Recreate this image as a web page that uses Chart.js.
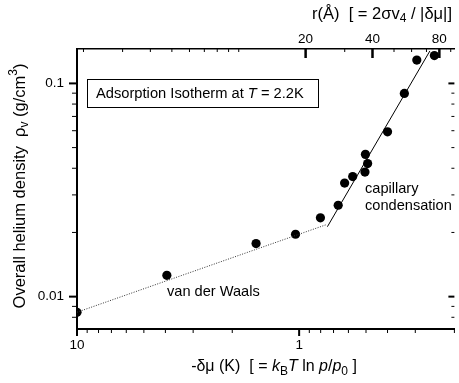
<!DOCTYPE html>
<html><head><meta charset="utf-8">
<script src="https://cdn.jsdelivr.net/npm/chart.js@4/dist/chart.umd.min.js"></script>
<style>html,body{margin:0;padding:0;background:#fff;overflow:hidden}</style>
</head><body>
<canvas id="c" width="459" height="383"></canvas>
<script>
// ---- data ----
const deltaMu = [10.0, 3.94, 1.563, 1.038, 0.802, 0.667, 0.624, 0.574, 0.503, 0.4916, 0.5055, 0.400, 0.336, 0.2953, 0.2461];
const density = [0.00844, 0.01259, 0.01774, 0.01961, 0.02341, 0.02683, 0.03408, 0.03656, 0.04647, 0.04207, 0.03838, 0.05926, 0.08977, 0.1286, 0.1350];
const vdwFitX = [10, 0.75];
const vdwFitY = [0.00845, 0.0218];
const capFitX = [0.746, 0.2578];
const capFitY = [0.02128, 0.1420];
const xTickLabels = [10, 1];
const yTickLabels = [0.1, 0.01];
const rTickLabels = [20, 40, 80];
const R_TIMES_DMU = 18.7;        // r(Å) * |δμ|(K)
const X_RANGE = [0.2, 10];
const Y_RANGE = [0.00705, 0.145];

const FONT = "'Liberation Sans', Arial, Helvetica, sans-serif";
Chart.defaults.font.family = FONT;
Chart.defaults.font.size = 13.5;
Chart.defaults.color = '#000';

function logTickValues(min, max) {
  const out = [];
  for (let e = Math.floor(Math.log10(min)) ; e <= Math.ceil(Math.log10(max)); e++) {
    for (let m = 1; m <= 9; m++) {
      const v = +(m * Math.pow(10, e)).toPrecision(6);
      if (v >= min * 0.9999 && v <= max * 1.0001) out.push({v, major: m === 1});
    }
  }
  return out;
}

function segFont(s, size) {
  const sz = s.s ? Math.round(size * 0.72) : size;
  return (s.i ? 'italic ' : '') + sz + 'px ' + FONT;
}
function drawRich(ctx, segs, x, y, size, align) {
  let w = 0;
  segs.forEach(s => { ctx.font = segFont(s, size); s.w = ctx.measureText(s.t).width; w += s.w; });
  let cx = align === 'center' ? x - w / 2 : (align === 'right' ? x - w : x);
  ctx.textBaseline = 'middle';
  ctx.textAlign = 'left';
  segs.forEach(s => {
    ctx.font = segFont(s, size);
    let dy = 0;
    if (s.s === 'sub') dy = size * 0.3;
    if (s.s === 'sup') dy = -size * 0.4;
    ctx.fillText(s.t, cx, y + dy);
    cx += s.w;
  });
}

const decorPlugin = {
  id: 'decor',
  afterDraw(chart) {
    const ctx = chart.ctx, a = chart.chartArea;
    const sx = chart.scales.x, sy = chart.scales.y, st = chart.scales.x2;
    ctx.save();
    ctx.strokeStyle = '#000';
    ctx.fillStyle = '#000';
    // bottom axis ticks (outward)
    logTickValues(X_RANGE[0], X_RANGE[1]).forEach(t => {
      const p = sx.getPixelForValue(t.v);
      ctx.lineWidth = t.major ? 2 : 1;
      ctx.beginPath(); ctx.moveTo(p, a.bottom); ctx.lineTo(p, a.bottom + (t.major ? 7 : 4)); ctx.stroke();
    });
    // left + right axis ticks
    logTickValues(Y_RANGE[0], Y_RANGE[1]).forEach(t => {
      const p = sy.getPixelForValue(t.v);
      ctx.lineWidth = t.major ? 2 : 1;
      ctx.beginPath(); ctx.moveTo(a.left, p); ctx.lineTo(a.left - (t.major ? 8 : 5), p); ctx.stroke();
      ctx.beginPath(); ctx.moveTo(a.right, p); ctx.lineTo(a.right - (t.major ? 6 : 3), p); ctx.stroke();
    });
    // top axis ticks (inward)
    logTickValues(st.min, st.max).forEach(t => {
      const p = st.getPixelForValue(t.v);
      const major = rTickLabels.includes(t.v);
      ctx.lineWidth = major ? 2.5 : 1;
      ctx.beginPath(); ctx.moveTo(p, a.top); ctx.lineTo(p, a.top + (major ? 9 : 3)); ctx.stroke();
    });
    // axis titles
    ctx.save();
    ctx.translate(20, 186);
    ctx.rotate(-Math.PI / 2);
    drawRich(ctx, [{t: 'Overall helium density  \u03C1'}, {t: 'v', s: 'sub'}, {t: ' (g/cm'}, {t: '3', s: 'sup'}, {t: ')'}], 0, 0, 16.5, 'center');
    ctx.restore();
    drawRich(ctx, [{t: '-\u03B4\u03BC (K)  [ = '}, {t: 'k', i: true}, {t: 'B', s: 'sub'}, {t: 'T', i: true}, {t: ' ln '}, {t: 'p', i: true}, {t: '/'}, {t: 'p', i: true}, {t: '0', s: 'sub'}, {t: ' ]'}], 274, 367, 16, 'center');
    drawRich(ctx, [{t: 'r(\u00C5)  [ = 2\u03C3v'}, {t: '4', s: 'sub'}, {t: ' / |\u03B4\u03BC|]'}], 382, 14, 16.5, 'center');
    // annotation box
    ctx.lineWidth = 1;
    ctx.strokeRect(87.5, 79.5, 231, 28);
    drawRich(ctx, [{t: 'Adsorption Isotherm at '}, {t: 'T', i: true}, {t: ' = 2.2K'}], 96, 94, 14.7, 'left');
    drawRich(ctx, [{t: 'capillary'}], 365, 189, 14.6, 'left');
    drawRich(ctx, [{t: 'condensation'}], 365, 206, 14.6, 'left');
    drawRich(ctx, [{t: 'van der Waals'}], 167, 292, 14.6, 'left');
    ctx.restore();
  }
};

const pts = deltaMu.map((x, i) => ({x, y: density[i]}));
const vdw = vdwFitX.map((x, i) => ({x, y: vdwFitY[i]}));
const cap = capFitX.map((x, i) => ({x, y: capFitY[i]}));

new Chart(document.getElementById('c'), {
  type: 'scatter',
  data: {
    datasets: [
      {data: vdw, showLine: true, borderColor: '#333', borderWidth: 1, borderDash: [1, 1.5], pointRadius: 0, xAxisID: 'x', yAxisID: 'y'},
      {data: cap, showLine: true, borderColor: '#000', borderWidth: 1, pointRadius: 0, xAxisID: 'x', yAxisID: 'y'},
      {data: pts, pointRadius: 4.6, pointBackgroundColor: '#000', pointBorderWidth: 0, xAxisID: 'x', yAxisID: 'y'}
    ]
  },
  options: {
    responsive: false,
    animation: false,
    devicePixelRatio: 1,
    layout: {padding: {left: 0, right: -2, top: 0, bottom: 0}},
    plugins: {legend: {display: false}, tooltip: {enabled: false}},
    scales: {
      x: {
        type: 'logarithmic', position: 'bottom', reverse: true,
        min: X_RANGE[0], max: X_RANGE[1],
        afterBuildTicks: s => { s.ticks = xTickLabels.map(v => ({value: v})); },
        afterFit: s => { s.height = 383 - 329; },
        grid: {display: false, drawTicks: false, tickLength: 0},
        border: {display: true, color: '#000', width: 2},
        ticks: {padding: 8, maxRotation: 0, autoSkip: false, callback: v => String(v)}
      },
      x2: {
        type: 'logarithmic', position: 'top',
        min: R_TIMES_DMU / X_RANGE[1], max: R_TIMES_DMU / X_RANGE[0],
        afterBuildTicks: s => { s.ticks = rTickLabels.map(v => ({value: v})); },
        afterFit: s => { s.height = 49; },
        grid: {display: false, drawTicks: false, tickLength: 0},
        border: {display: true, color: '#000', width: 1.5},
        ticks: {padding: 2, maxRotation: 0, autoSkip: false, callback: v => String(v)}
      },
      y: {
        type: 'logarithmic', position: 'left',
        min: Y_RANGE[0], max: Y_RANGE[1],
        afterBuildTicks: s => { s.ticks = yTickLabels.map(v => ({value: v})); },
        afterFit: s => { s.width = 77; },
        grid: {display: false, drawTicks: false, tickLength: 0},
        border: {display: true, color: '#000', width: 2},
        ticks: {padding: 13, autoSkip: false, callback: v => String(v)}
      }
    }
  },
  plugins: [decorPlugin]
});
</script>
</body></html>
